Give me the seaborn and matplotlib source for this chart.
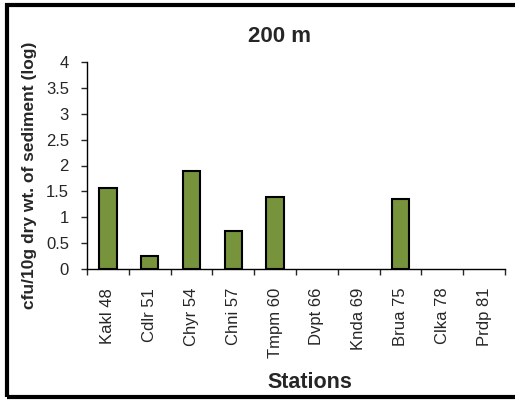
import numpy as np
import pandas as pd
import matplotlib
matplotlib.use("Agg")
import matplotlib.pyplot as plt
import seaborn as sns
from matplotlib.patches import Rectangle

# data
stations = ["Kakl 48", "Cdlr 51", "Chyr 54", "Chni 57", "Tmpm 60",
            "Dvpt 66", "Knda 69", "Brua 75", "Clka 78", "Prdp 81"]
counts = [1.57, 0.26, 1.89, 0.73, 1.39, 0, 0, 1.35, 0, 0]
yticks = [0, 0.5, 1, 1.5, 2, 2.5, 3, 3.5, 4]
ytick_labels = ["0", "0.5", "1", "1.5", "2", "2.5", "3", "3.5", "4"]

df = pd.DataFrame({"station": stations, "count": counts})

sns.set_style("white")
plt.rcParams['font.family'] = ['Liberation Sans', 'DejaVu Sans']

fig = plt.figure(figsize=(5.15, 4.01), dpi=100)
ax = fig.add_axes([87 / 515, 1 - 269 / 401, (505 - 87) / 515, (269 - 62) / 401])

sns.barplot(data=df, x="station", y="count", color="#77933C", saturation=1,
            width=0.42, edgecolor="black", linewidth=1.5, ax=ax)
# zero bars are not drawn in the original
for p in ax.patches:
    if p.get_height() == 0:
        p.set_visible(False)

ax.set_ylim(0, 4)
ax.set_xlim(-0.5, len(stations) - 0.5)
ax.set_yticks(yticks)
ax.set_yticklabels(ytick_labels, fontsize=12)
ax.set_xticks(range(len(stations)))
ax.set_xticklabels(stations, rotation=90, fontsize=12)
# ticks between categories
ax.set_xticks(np.arange(-0.5, len(stations)), minor=True)
ax.tick_params(axis="x", which="major", length=0, pad=13.5)
ax.tick_params(axis="x", which="minor", length=4, width=1, direction="out", bottom=True)
ax.tick_params(axis="y", length=4, width=1, direction="out", left=True, pad=9)

for s in ["top", "right"]:
    ax.spines[s].set_visible(False)
for s in ["left", "bottom"]:
    ax.spines[s].set_color("black")
    ax.spines[s].set_linewidth(1)

ax.set_xlabel("")
ax.set_ylabel("")
fig.text(279 / 515, 1 - 36 / 401, "200 m", fontsize=16, fontweight="bold",
         ha="center", va="center")
fig.text(310 / 515, 1 - 383 / 401, "Stations", fontsize=15.5, fontweight="bold",
         ha="center", va="center")
fig.text(30 / 515, 1 - 175 / 401, "cfu/10g dry wt. of sediment (log)", fontsize=12.5,
         fontweight="bold", rotation=90, ha="center", va="center")

# outer frame
fig.patches.append(Rectangle((7 / 515, 4 / 401), 1.0, 1 - 9 / 401, transform=fig.transFigure,
                             fill=False, edgecolor="black", linewidth=3, clip_on=False))

fig.savefig("out.png", dpi=100)
